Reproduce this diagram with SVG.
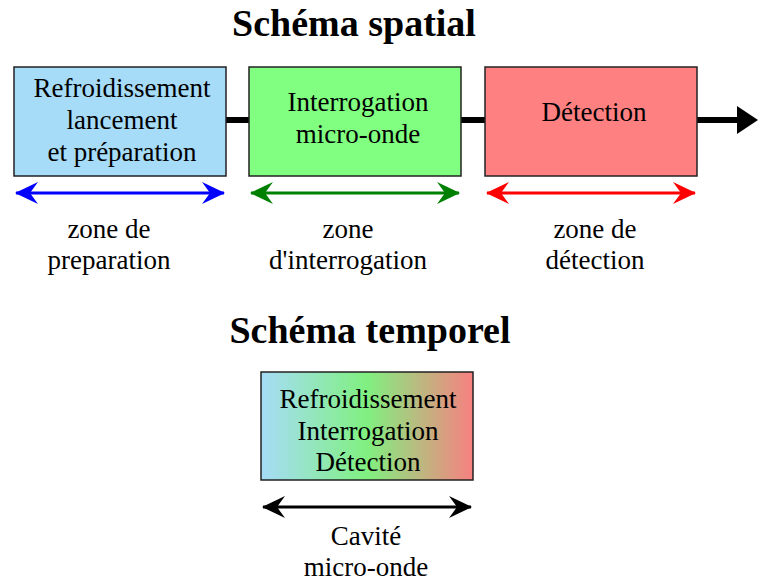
<svg xmlns="http://www.w3.org/2000/svg" width="758" height="584" viewBox="0 0 758 584">
<defs>
<linearGradient id="grad" x1="0" y1="0" x2="1" y2="0">
<stop offset="0" stop-color="#a6dcf8"/>
<stop offset="0.5" stop-color="#80f080"/>
<stop offset="1" stop-color="#f88080"/>
</linearGradient>
<marker id="hb" viewBox="0 0 24 24" refX="22" refY="12" markerWidth="24" markerHeight="24" markerUnits="userSpaceOnUse" orient="auto-start-reverse">
<path d="M0,1 L23,12 L0,23 L8,12 Z" fill="#0000ff"/>
</marker>
<marker id="hg" viewBox="0 0 24 24" refX="22" refY="12" markerWidth="24" markerHeight="24" markerUnits="userSpaceOnUse" orient="auto-start-reverse">
<path d="M0,1 L23,12 L0,23 L8,12 Z" fill="#008000"/>
</marker>
<marker id="hr" viewBox="0 0 24 24" refX="22" refY="12" markerWidth="24" markerHeight="24" markerUnits="userSpaceOnUse" orient="auto-start-reverse">
<path d="M0,1 L23,12 L0,23 L8,12 Z" fill="#ff0000"/>
</marker>
<marker id="hk" viewBox="0 0 24 24" refX="22" refY="12" markerWidth="24" markerHeight="24" markerUnits="userSpaceOnUse" orient="auto-start-reverse">
<path d="M0,1 L23,12 L0,23 L8,12 Z" fill="#000000"/>
</marker>
</defs>
<style>
text{font-family:"Liberation Serif","Times New Roman",serif;fill:#000;text-anchor:middle}
.t{font-size:27px}
.h{font-size:38px;font-weight:bold}
.box{stroke:#222;stroke-width:1.5}
</style>
<rect width="758" height="584" fill="#fff"/>
<text class="h" x="354" y="36">Schéma spatial</text>
<text class="h" x="370" y="343">Schéma temporel</text>
<g id="connectors">
<line x1="226" y1="120" x2="249" y2="120" stroke="#000" stroke-width="6"/>
<line x1="461" y1="120" x2="485" y2="120" stroke="#000" stroke-width="6"/>
<line x1="697" y1="120" x2="740" y2="120" stroke="#000" stroke-width="6"/>
<path d="M737,106 L758,120 L737,134 Z" fill="#000"/>
<line x1="16" y1="193" x2="224" y2="193" stroke="#0000ff" stroke-width="3" marker-start="url(#hb)" marker-end="url(#hb)"/>
<line x1="251" y1="193" x2="459" y2="193" stroke="#008000" stroke-width="3" marker-start="url(#hg)" marker-end="url(#hg)"/>
<line x1="487" y1="193" x2="695" y2="193" stroke="#ff0000" stroke-width="3" marker-start="url(#hr)" marker-end="url(#hr)"/>
<line x1="263" y1="507" x2="471" y2="507" stroke="#000" stroke-width="3" marker-start="url(#hk)" marker-end="url(#hk)"/>
</g>
<g id="n1">
<rect class="box" x="14" y="67" width="212" height="109" fill="#a6dcf8"/>
<text class="t" x="122" y="97">Refroidissement</text>
<text class="t" x="122" y="129">lancement</text>
<text class="t" x="122" y="161">et préparation</text>
</g>
<g id="n2">
<rect class="box" x="249" y="67" width="212" height="109" fill="#80ff80"/>
<text class="t" x="358" y="111">Interrogation</text>
<text class="t" x="358" y="143">micro-onde</text>
</g>
<g id="n3">
<rect class="box" x="485" y="67" width="212" height="109" fill="#ff8080"/>
<text class="t" x="594" y="121">Détection</text>
</g>
<g id="n4">
<rect class="box" x="261" y="372" width="212" height="108" fill="url(#grad)"/>
<text class="t" x="368" y="408">Refroidissement</text>
<text class="t" x="368" y="440">Interrogation</text>
<text class="t" x="368" y="471">Détection</text>
</g>
<g id="labels">
<text class="t" x="109" y="238">zone de</text>
<text class="t" x="109" y="269">preparation</text>
<text class="t" x="348" y="238">zone</text>
<text class="t" x="348" y="269">d'interrogation</text>
<text class="t" x="595" y="238">zone de</text>
<text class="t" x="595" y="269">détection</text>
<text class="t" x="366" y="545">Cavité</text>
<text class="t" x="366" y="576">micro-onde</text>
</g>
</svg>
